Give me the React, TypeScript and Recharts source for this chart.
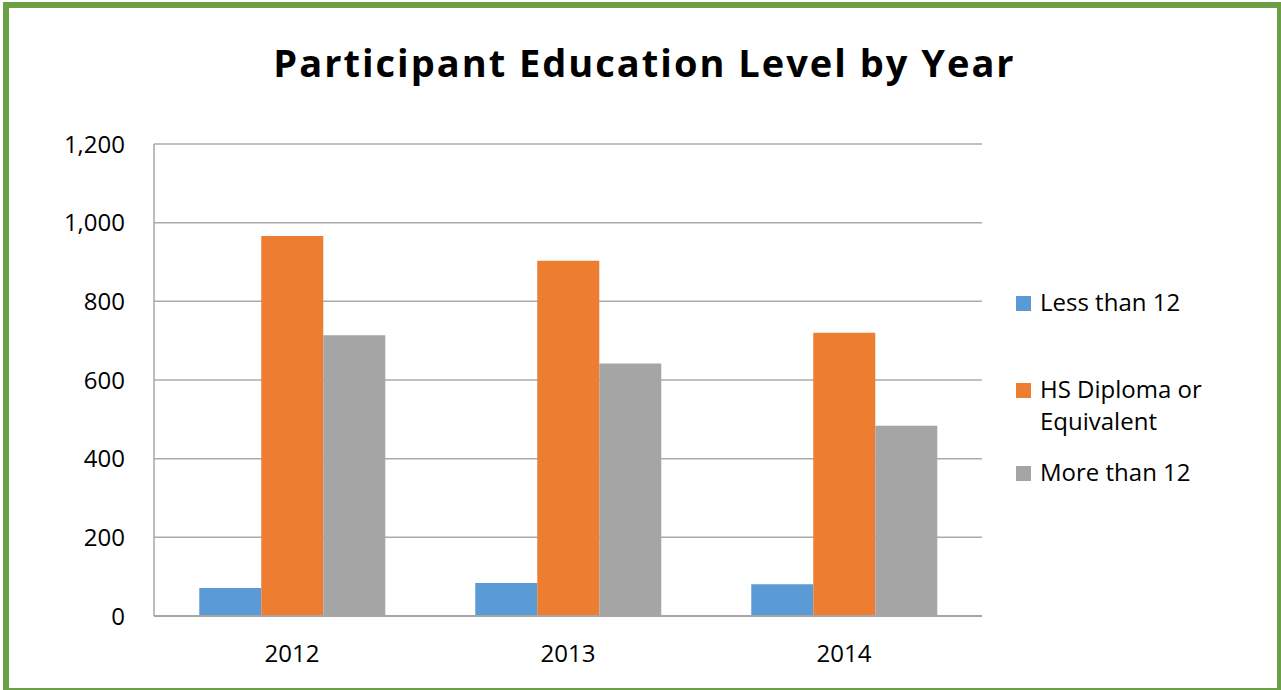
import React from "react";
import { BarChart, Bar, XAxis, YAxis, CartesianGrid } from "recharts";

const years = ["2012", "2013", "2014"];
const lessThan12 = [71, 84, 81];
const hsDiploma = [966, 903, 720];
const moreThan12 = [714, 642, 484];
const yTicks = [0, 200, 400, 600, 800, 1000, 1200];

const seriesNames = ["Less than 12", "HS Diploma or Equivalent", "More than 12"];
const seriesColors = ["#5B9BD5", "#ED7D31", "#A5A5A5"];

const data = years.map((y, i) => ({
  year: y,
  less: lessThan12[i],
  hs: hsDiploma[i],
  more: moreThan12[i],
}));

const FONT = "'Open Sans', Lato, sans-serif";

const legendTops = [286, 373, 456];

const LegendBox = () => (
  <div style={{ position: "absolute", left: 1016, top: 0, width: 260, height: 690 }}>
    {seriesNames.map((name, i) => (
      <div
        key={name}
        style={{
          position: "absolute",
          left: 0,
          top: legendTops[i],
          display: "flex",
          alignItems: "flex-start",
          fontFamily: FONT,
          fontSize: 24,
          lineHeight: "32px",
          color: "#000",
        }}
      >
        <div
          style={{
            width: 15,
            height: 15,
            background: seriesColors[i],
            marginTop: 10,
            marginRight: 9,
            flex: "none",
          }}
        />
        <div style={{ width: 200, whiteSpace: "nowrap" }}>
          {i === 1 ? (
            <>
              HS Diploma or
              <br />
              Equivalent
            </>
          ) : (
            name
          )}
        </div>
      </div>
    ))}
  </div>
);

export default function App() {
  return (
    <div
      style={{
        position: "absolute",
        left: 0,
        top: 0,
        width: 1281,
        height: 690,
        overflow: "hidden",
        background: "#fff",
      }}
    >
      <div style={{ position: "absolute", left: 0, top: 0 }}>
        <BarChart
          width={1281}
          height={690}
          data={data}
          margin={{ top: 144, right: 299, bottom: 0, left: 0 }}
          barCategoryGap="16.4%"
          barGap={0}
        >
          <CartesianGrid vertical={false} stroke="#ABABAB" strokeWidth={1.5} />
          <XAxis
            dataKey="year"
            axisLine={{ stroke: "#A6A6A6", strokeWidth: 2 }}
            tickLine={false}
            tickSize={0}
            tickMargin={29}
            tick={{ fill: "#000", fontSize: 24, fontFamily: FONT }}
            height={74}
          />
          <YAxis
            domain={[0, 1200]}
            ticks={yTicks}
            width={154}
            axisLine={{ stroke: "#A6A6A6", strokeWidth: 1.5 }}
            tickLine={false}
            tickSize={0}
            tickMargin={29}
            tickFormatter={(v: number) => v.toLocaleString("en-US")}
            tick={{ fill: "#000", fontSize: 24, fontFamily: FONT }}
          />
          <Bar dataKey="less" name={seriesNames[0]} fill={seriesColors[0]} isAnimationActive={false} />
          <Bar dataKey="hs" name={seriesNames[1]} fill={seriesColors[1]} isAnimationActive={false} />
          <Bar dataKey="more" name={seriesNames[2]} fill={seriesColors[2]} isAnimationActive={false} />
        </BarChart>
      </div>
      <LegendBox />
      <div
        style={{
          position: "absolute",
          left: 4,
          top: 36,
          width: 1281,
          textAlign: "center",
          fontFamily: FONT,
          fontWeight: 700,
          fontSize: 38,
          letterSpacing: 2,
          lineHeight: "52px",
          color: "#000",
        }}
      >
        Participant Education Level by Year
      </div>
      <div
        style={{
          position: "absolute",
          left: 3,
          top: 2,
          width: 1280,
          height: 692,
          border: "6px solid #6A9F45",
          boxSizing: "border-box",
        }}
      />
    </div>
  );
}
